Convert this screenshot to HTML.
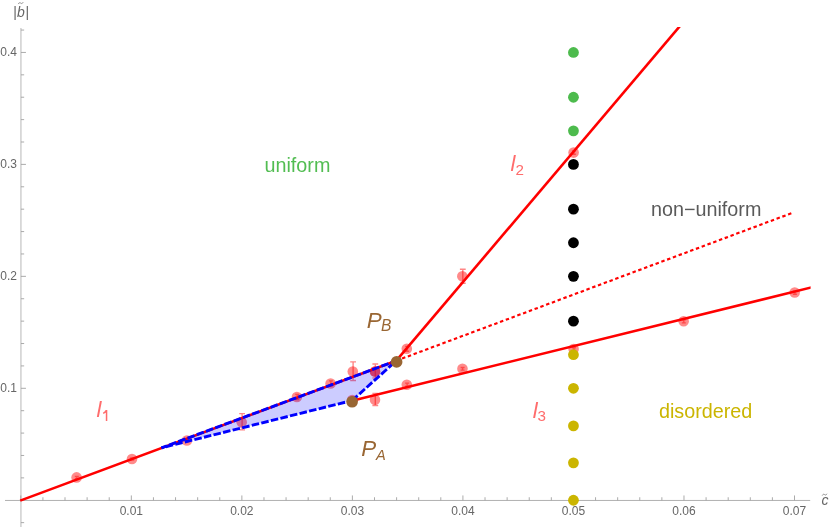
<!DOCTYPE html>
<html><head><meta charset="utf-8"><title>phase diagram</title>
<style>
html,body{margin:0;padding:0;background:#ffffff;}
body{width:830px;height:527px;overflow:hidden;font-family:"Liberation Sans",sans-serif;}
svg{display:block;will-change:transform;}
</style></head><body>
<svg width="830" height="527" viewBox="0 0 830 527">
<g stroke="#b0b0b0" stroke-width="1" fill="none">
<line x1="5" y1="500.45" x2="810.2" y2="500.45"/>
<line x1="20.95" y1="28" x2="20.95" y2="527" stroke-width="0.9"/>
</g>
<g stroke="#a2a2a2" stroke-width="0.9" fill="none">
<line x1="20.80" y1="500.45" x2="20.80" y2="495.45"/>
<line x1="42.91" y1="500.45" x2="42.91" y2="497.25"/>
<line x1="65.01" y1="500.45" x2="65.01" y2="497.25"/>
<line x1="87.12" y1="500.45" x2="87.12" y2="497.25"/>
<line x1="109.22" y1="500.45" x2="109.22" y2="497.25"/>
<line x1="131.33" y1="500.45" x2="131.33" y2="495.45"/>
<line x1="153.44" y1="500.45" x2="153.44" y2="497.25"/>
<line x1="175.54" y1="500.45" x2="175.54" y2="497.25"/>
<line x1="197.65" y1="500.45" x2="197.65" y2="497.25"/>
<line x1="219.75" y1="500.45" x2="219.75" y2="497.25"/>
<line x1="241.86" y1="500.45" x2="241.86" y2="495.45"/>
<line x1="263.97" y1="500.45" x2="263.97" y2="497.25"/>
<line x1="286.07" y1="500.45" x2="286.07" y2="497.25"/>
<line x1="308.18" y1="500.45" x2="308.18" y2="497.25"/>
<line x1="330.28" y1="500.45" x2="330.28" y2="497.25"/>
<line x1="352.39" y1="500.45" x2="352.39" y2="495.45"/>
<line x1="374.50" y1="500.45" x2="374.50" y2="497.25"/>
<line x1="396.60" y1="500.45" x2="396.60" y2="497.25"/>
<line x1="418.71" y1="500.45" x2="418.71" y2="497.25"/>
<line x1="440.81" y1="500.45" x2="440.81" y2="497.25"/>
<line x1="462.92" y1="500.45" x2="462.92" y2="495.45"/>
<line x1="485.03" y1="500.45" x2="485.03" y2="497.25"/>
<line x1="507.13" y1="500.45" x2="507.13" y2="497.25"/>
<line x1="529.24" y1="500.45" x2="529.24" y2="497.25"/>
<line x1="551.34" y1="500.45" x2="551.34" y2="497.25"/>
<line x1="573.45" y1="500.45" x2="573.45" y2="495.45"/>
<line x1="595.56" y1="500.45" x2="595.56" y2="497.25"/>
<line x1="617.66" y1="500.45" x2="617.66" y2="497.25"/>
<line x1="639.77" y1="500.45" x2="639.77" y2="497.25"/>
<line x1="661.87" y1="500.45" x2="661.87" y2="497.25"/>
<line x1="683.98" y1="500.45" x2="683.98" y2="495.45"/>
<line x1="706.09" y1="500.45" x2="706.09" y2="497.25"/>
<line x1="728.19" y1="500.45" x2="728.19" y2="497.25"/>
<line x1="750.30" y1="500.45" x2="750.30" y2="497.25"/>
<line x1="772.40" y1="500.45" x2="772.40" y2="497.25"/>
<line x1="794.51" y1="500.45" x2="794.51" y2="495.45"/>
<line x1="20.95" y1="522.64" x2="24.15" y2="522.64"/>
<line x1="20.95" y1="477.86" x2="24.15" y2="477.86"/>
<line x1="20.95" y1="455.47" x2="24.15" y2="455.47"/>
<line x1="20.95" y1="433.08" x2="24.15" y2="433.08"/>
<line x1="20.95" y1="410.69" x2="24.15" y2="410.69"/>
<line x1="20.95" y1="388.30" x2="25.95" y2="388.30"/>
<line x1="20.95" y1="365.91" x2="24.15" y2="365.91"/>
<line x1="20.95" y1="343.52" x2="24.15" y2="343.52"/>
<line x1="20.95" y1="321.13" x2="24.15" y2="321.13"/>
<line x1="20.95" y1="298.74" x2="24.15" y2="298.74"/>
<line x1="20.95" y1="276.35" x2="25.95" y2="276.35"/>
<line x1="20.95" y1="253.96" x2="24.15" y2="253.96"/>
<line x1="20.95" y1="231.57" x2="24.15" y2="231.57"/>
<line x1="20.95" y1="209.18" x2="24.15" y2="209.18"/>
<line x1="20.95" y1="186.79" x2="24.15" y2="186.79"/>
<line x1="20.95" y1="164.40" x2="25.95" y2="164.40"/>
<line x1="20.95" y1="142.01" x2="24.15" y2="142.01"/>
<line x1="20.95" y1="119.62" x2="24.15" y2="119.62"/>
<line x1="20.95" y1="97.23" x2="24.15" y2="97.23"/>
<line x1="20.95" y1="74.84" x2="24.15" y2="74.84"/>
<line x1="20.95" y1="52.45" x2="25.95" y2="52.45"/>
<line x1="20.95" y1="30.06" x2="24.15" y2="30.06"/>
</g>
<g font-family="Liberation Sans, sans-serif" font-size="12" fill="#666666">
<text x="131.33" y="515" text-anchor="middle">0.01</text>
<text x="241.86" y="515" text-anchor="middle">0.02</text>
<text x="352.39" y="515" text-anchor="middle">0.03</text>
<text x="462.92" y="515" text-anchor="middle">0.04</text>
<text x="573.45" y="515" text-anchor="middle">0.05</text>
<text x="683.98" y="515" text-anchor="middle">0.06</text>
<text x="794.51" y="515" text-anchor="middle">0.07</text>
<text x="17.05" y="391.60" text-anchor="end">0.1</text>
<text x="17.05" y="279.65" text-anchor="end">0.2</text>
<text x="17.05" y="167.70" text-anchor="end">0.3</text>
<text x="17.05" y="55.75" text-anchor="end">0.4</text>
</g>
<g font-family="Liberation Sans, sans-serif" font-size="14" fill="#666666">
<text x="13.3" y="17.2">|</text>
<text x="16.9" y="17.2" font-style="italic">b</text>
<text x="25.45" y="17.2">|</text>
<text x="821.5" y="504.7" font-style="italic">c</text>
</g>
<g stroke="#707070" stroke-width="0.75" fill="none" stroke-linecap="round">
<path d="M18.4 3.7C19.0 2.5 20.0 2.5 20.7 3.1C21.4 3.7 22.4 3.8 23.0 2.6"/>
<path d="M822.4 495.2C823.0 494.0 823.9 494.0 824.6 494.6C825.3 495.2 826.2 495.3 826.8 494.1"/>
</g>
<g>
<circle cx="76.6" cy="477.4" r="5.3" fill="#ff0000" fill-opacity="0.46"/>
<path d="M76.8 476.40V478.40M74.8 476.40h4.0M74.8 478.40h4.0" stroke="#ff0000" stroke-opacity="0.48" stroke-width="1.4" fill="none"/>
<circle cx="132.0" cy="459.0" r="5.3" fill="#ff0000" fill-opacity="0.46"/>
<path d="M132.2 458.00V460.00M130.2 458.00h4.0M130.2 460.00h4.0" stroke="#ff0000" stroke-opacity="0.48" stroke-width="1.4" fill="none"/>
<circle cx="186.9" cy="440.5" r="5.3" fill="#ff0000" fill-opacity="0.46"/>
<path d="M187.1 439.50V441.50M185.1 439.50h4.0M185.1 441.50h4.0" stroke="#ff0000" stroke-opacity="0.48" stroke-width="1.4" fill="none"/>
<circle cx="241.7" cy="422.3" r="5.3" fill="#ff0000" fill-opacity="0.46"/>
<path d="M242.1 413.60V429.90M239.2 413.60h5.8M239.2 429.90h5.8" stroke="#ff0000" stroke-opacity="0.48" stroke-width="1.4" fill="none"/>
<circle cx="296.9" cy="397.0" r="5.3" fill="#ff0000" fill-opacity="0.46"/>
<path d="M297.2 394.40V399.60M295.2 394.40h4.0M295.2 399.60h4.0" stroke="#ff0000" stroke-opacity="0.48" stroke-width="1.4" fill="none"/>
<circle cx="330.6" cy="383.5" r="5.3" fill="#ff0000" fill-opacity="0.46"/>
<path d="M330.9 380.90V386.10M328.9 380.90h4.0M328.9 386.10h4.0" stroke="#ff0000" stroke-opacity="0.48" stroke-width="1.4" fill="none"/>
<circle cx="352.8" cy="371.5" r="5.3" fill="#ff0000" fill-opacity="0.46"/>
<path d="M353.1 361.90V380.50M350.20000000000005 361.90h5.8M350.20000000000005 380.50h5.8" stroke="#ff0000" stroke-opacity="0.48" stroke-width="1.4" fill="none"/>
<circle cx="375" cy="371.5" r="5.3" fill="#ff0000" fill-opacity="0.46"/>
<path d="M375.3 364.00V378.00M372.40000000000003 364.00h5.8M372.40000000000003 378.00h5.8" stroke="#ff0000" stroke-opacity="0.48" stroke-width="1.4" fill="none"/>
<circle cx="375" cy="399.7" r="5.3" fill="#ff0000" fill-opacity="0.46"/>
<path d="M375.3 393.50V405.50M372.40000000000003 393.50h5.8M372.40000000000003 405.50h5.8" stroke="#ff0000" stroke-opacity="0.48" stroke-width="1.4" fill="none"/>
<circle cx="406.8" cy="348.8" r="5.3" fill="#ff0000" fill-opacity="0.46"/>
<path d="M407.1 346.40V351.20M405.1 346.40h4.0M405.1 351.20h4.0" stroke="#ff0000" stroke-opacity="0.48" stroke-width="1.4" fill="none"/>
<circle cx="406.8" cy="384.7" r="5.3" fill="#ff0000" fill-opacity="0.46"/>
<path d="M407.1 383.10V386.30M405.1 383.10h4.0M405.1 386.30h4.0" stroke="#ff0000" stroke-opacity="0.48" stroke-width="1.4" fill="none"/>
<circle cx="462.3" cy="276.2" r="5.3" fill="#ff0000" fill-opacity="0.46"/>
<path d="M462.8 269.30V283.20M459.90000000000003 269.30h5.8M459.90000000000003 283.20h5.8" stroke="#ff0000" stroke-opacity="0.48" stroke-width="1.4" fill="none"/>
<circle cx="462.45" cy="368.7" r="5.3" fill="#ff0000" fill-opacity="0.46"/>
<path d="M462.6 367.50V370.10M460.6 367.50h4.0M460.6 370.10h4.0" stroke="#ff0000" stroke-opacity="0.48" stroke-width="1.4" fill="none"/>
<circle cx="573.6" cy="152.6" r="5.3" fill="#ff0000" fill-opacity="0.46"/>
<path d="M573.9 151.00V154.20M571.9 151.00h4.0M571.9 154.20h4.0" stroke="#ff0000" stroke-opacity="0.48" stroke-width="1.4" fill="none"/>
<circle cx="573.6" cy="349.1" r="5.3" fill="#ff0000" fill-opacity="0.46"/>
<path d="M573.9 347.70V350.50M571.9 347.70h4.0M571.9 350.50h4.0" stroke="#ff0000" stroke-opacity="0.48" stroke-width="1.4" fill="none"/>
<circle cx="683.65" cy="321.2" r="5.3" fill="#ff0000" fill-opacity="0.46"/>
<path d="M683.8 319.90V322.90M681.8 319.90h4.0M681.8 322.90h4.0" stroke="#ff0000" stroke-opacity="0.48" stroke-width="1.4" fill="none"/>
<circle cx="794.7" cy="292.5" r="5.3" fill="#ff0000" fill-opacity="0.46"/>
<path d="M794.9 291.30V294.30M792.9 291.30h4.0M792.9 294.30h4.0" stroke="#ff0000" stroke-opacity="0.48" stroke-width="1.4" fill="none"/>
<circle cx="352.2" cy="400.0" r="5.3" fill="#ff0000" fill-opacity="0.46"/>
<path d="M352.5 397.00V403.00M350.5 397.00h4.0M350.5 403.00h4.0" stroke="#ff0000" stroke-opacity="0.48" stroke-width="1.4" fill="none"/>
<circle cx="375" cy="371.5" r="5.3" fill="#ff0000" fill-opacity="0.45"/>
</g>
<defs><clipPath id="pr"><rect x="0" y="26.9" width="810.6" height="520"/></clipPath></defs>
<g stroke="#ff0000" stroke-width="2.6" fill="none" clip-path="url(#pr)">
<line x1="20.2" y1="500.65" x2="396.3" y2="360.7"/>
<line x1="396.3" y1="360.7" x2="684.91" y2="20.18"/>
<line x1="352.1" y1="400.75" x2="812" y2="287.25"/>
<line x1="396.3" y1="360.7" x2="792.3" y2="212.9" stroke-width="2.15" stroke-dasharray="3.45 2.7"/>
</g>
<polygon points="161.5,447.8 352.2,400.5 396.3,360.7" fill="#0000ff" fill-opacity="0.2" stroke="none"/>
<line x1="161.5" y1="447.8" x2="396.3" y2="360.7" stroke="#0000ff" stroke-width="2.9" fill="none" stroke-dasharray="7.55 2.3" stroke-dashoffset="1.8"/>
<line x1="396.3" y1="360.7" x2="352.2" y2="400.5" stroke="#0000ff" stroke-width="2.9" fill="none" stroke-dasharray="7.55 2.3" stroke-dashoffset="6.95"/>
<line x1="352.2" y1="400.5" x2="161.5" y2="447.8" stroke="#0000ff" stroke-width="2.9" fill="none" stroke-dasharray="7.55 2.3" stroke-dashoffset="2.55"/>
<circle cx="396.6" cy="361.9" r="5.85" fill="#996633"/>
<circle cx="352.1" cy="401.75" r="5.85" fill="#996633"/>
<circle cx="573.45" cy="130.81" r="5.4" fill="#4dbb4d"/>
<circle cx="573.45" cy="97.23" r="5.4" fill="#4dbb4d"/>
<circle cx="573.45" cy="52.45" r="5.4" fill="#4dbb4d"/>
<circle cx="573.45" cy="321.13" r="5.4" fill="#000000"/>
<circle cx="573.45" cy="276.35" r="5.4" fill="#000000"/>
<circle cx="573.45" cy="242.76" r="5.4" fill="#000000"/>
<circle cx="573.45" cy="209.18" r="5.4" fill="#000000"/>
<circle cx="573.45" cy="164.40" r="5.4" fill="#000000"/>
<circle cx="573.45" cy="354.72" r="5.4" fill="#cbb500"/>
<circle cx="573.45" cy="388.30" r="5.4" fill="#cbb500"/>
<circle cx="573.45" cy="425.92" r="5.4" fill="#cbb500"/>
<circle cx="573.45" cy="462.86" r="5.4" fill="#cbb500"/>
<circle cx="573.45" cy="500.25" r="5.4" fill="#cbb500"/>
<g font-family="Liberation Sans, sans-serif" font-size="19.75">
<text x="264.5" y="171.8" fill="#52bd52">uniform</text>
<text x="651.0" y="216.1" fill="#5a5a5a">non−uniform</text>
<text x="659.0" y="418.1" fill="#cbb500">disordered</text>
</g>
<text x="96.6" y="417.0" font-family="Liberation Sans, sans-serif" font-size="22" font-style="italic" fill="#ff6c6c">l</text>
<path d="M106.55 420.9V410.0M106.4 410.3C105.7 411.6 104.6 412.6 103.2 413.3" stroke="#ff6c6c" stroke-width="1.5" fill="none"/>
<text x="510.4" y="170.9" font-family="Liberation Sans, sans-serif" font-size="22" font-style="italic" fill="#ff6c6c">l</text>
<text x="515.5" y="174.9" font-family="Liberation Sans, sans-serif" font-size="15.2" fill="#ff6c6c">2</text>
<text x="532.7" y="417.5" font-family="Liberation Sans, sans-serif" font-size="22" font-style="italic" fill="#ff6c6c">l</text>
<text x="537.5" y="421.1" font-family="Liberation Sans, sans-serif" font-size="15.2" fill="#ff6c6c">3</text>
<text x="366.8" y="327.9" font-family="Liberation Sans, sans-serif" font-size="22.4" font-style="italic" fill="#996633">P</text>
<text x="381.1" y="331.3" font-family="Liberation Sans, sans-serif" font-size="15.6" font-style="italic" fill="#996633">B</text>
<text x="361.3" y="456.2" font-family="Liberation Sans, sans-serif" font-size="22.4" font-style="italic" fill="#996633">P</text>
<text x="375.9" y="460.0" font-family="Liberation Sans, sans-serif" font-size="14.6" font-style="italic" fill="#996633">A</text>
</svg>
</body></html>
